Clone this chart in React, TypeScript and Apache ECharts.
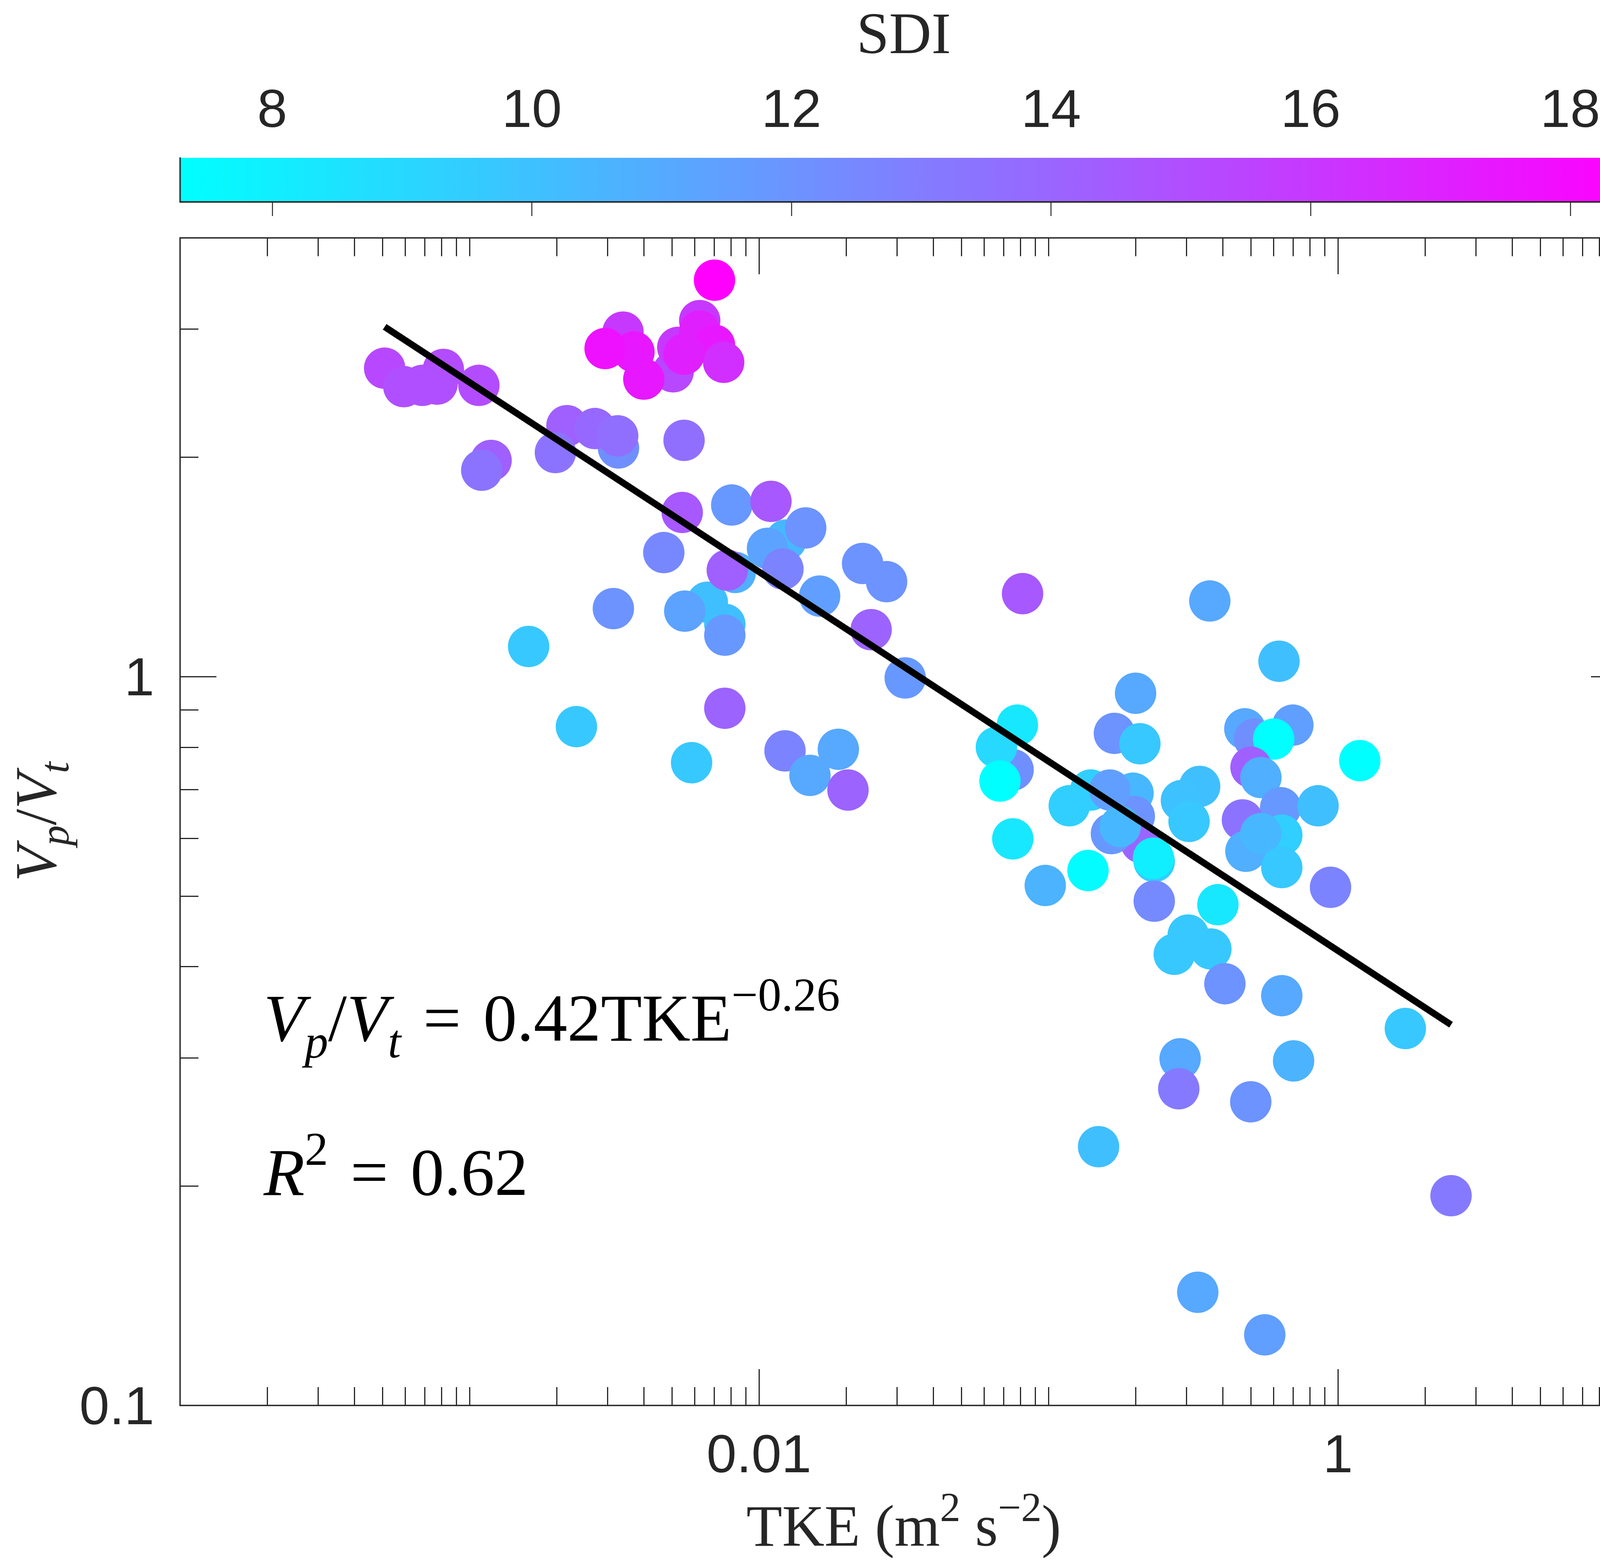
import React, { useEffect, useRef } from 'react';
import * as echarts from 'echarts';

// ---- data ----
const tke = [
  0.00505, 0.00524, 0.00624, 0.00339, 0.00624, 0.00702, 0.00755, 0.00551, 0.00702, 0.0037, 0.00294, 0.004,
  0.000687, 0.000509, 0.000812, 0.000772, 0.000593, 0.001077,
  0.001187, 0.001102, 0.00327, 0.00217, 0.00198, 0.00271, 0.00325, 0.00551,
  0.00543, 0.00805, 0.011, 0.0124, 0.00828, 0.00663, 0.00762, 0.00469, 0.0107, 0.00777, 0.0121, 0.0145,
  0.0228, 0.0276, 0.0162, 0.0244, 0.00314, 0.00554, 0.00762, 0.0016, 0.00762, 0.00234, 0.00585, 0.0123,
  0.0188, 0.015, 0.0203,
  0.0814, 0.361, 0.032, 0.626, 0.2, 0.0755, 0.0781, 0.0661, 0.068, 0.169, 0.207, 0.477, 0.699, 0.515,
  0.6, 0.501, 0.542, 0.14, 0.333, 0.196, 0.198, 0.209, 0.165, 0.232, 0.163, 0.118, 0.288, 0.306, 0.177,
  0.2305, 0.0753, 0.137, 0.0975, 0.232, 0.385, 0.364, 0.304, 0.272, 0.407, 0.64, 0.634, 0.468, 0.64,
  0.481, 0.854, 0.542, 0.64, 0.943,
  1.19, 1.71, 0.285, 0.703, 0.282, 0.5, 0.149, 2.46, 0.328, 0.559,
];
const ratio = [
  2.62, 2.83, 3.08, 2.97, 2.98, 2.85, 2.7, 2.77, 3.5, 2.79, 2.82, 2.56,
  2.51, 2.65, 2.64, 2.52, 2.5, 2.51,
  1.98, 1.92, 2.06, 2.21, 2.03, 2.19, 2.14, 2.11,
  1.68, 1.72, 1.74, 1.54, 1.39, 1.265, 1.18, 1.48, 1.5, 1.4, 1.405, 1.6,
  1.43, 1.35, 1.29, 1.16, 1.24, 1.23, 1.14, 1.1, 0.905, 0.854, 0.762, 0.791,
  0.795, 0.732, 0.699,
  1.3, 1.27, 0.996, 1.05, 0.949, 0.745, 0.858, 0.8, 0.719, 0.836, 0.809, 0.848, 0.858, 0.821,
  0.821, 0.751, 0.727, 0.699, 0.707, 0.692, 0.643, 0.592, 0.609, 0.5575, 0.699, 0.665, 0.676, 0.633, 0.623,
  0.5636, 0.599, 0.542, 0.517, 0.492, 0.4865, 0.423, 0.442, 0.416, 0.379, 0.365, 0.661, 0.636, 0.606,
  0.576, 0.665, 0.609, 0.547, 0.514,
  0.767, 0.329, 0.299, 0.297, 0.272, 0.261, 0.2265, 0.194, 0.143, 0.125,
];
const sdi = [
  15.3, 16.0, 16.0, 16.0, 17.1, 17.4, 16.4, 17.1, 18.44, 17.4, 17.7, 17.4,
  14.9, 15.3, 15.1, 15.0, 15.0, 15.1,
  14.3, 13.4, 12.2, 14.3, 13.4, 13.9, 13.6, 13.6,
  14.6, 11.8, 14.6, 10.4, 10.8, 10.1, 10.1, 12.5, 11.3, 14.3, 12.7, 12.0,
  12.0, 12.0, 11.5, 14.1, 12.0, 11.3, 11.8, 9.7, 14.1, 9.7, 9.7, 12.7,
  11.1, 11.1, 14.1,
  14.6, 11.1, 11.8, 10.1, 11.1, 12.2, 8.3, 9.0, 7.29, 12.0, 9.7, 11.1, 11.5, 12.2,
  7.29, 14.3, 10.8, 9.4, 10.1, 10.4, 12.0, 14.0, 11.8, 9.4, 11.5, 9.4, 10.0, 9.7, 10.4,
  8.0, 8.3, 7.4, 10.6, 12.4, 8.3, 9.7, 9.7, 9.7, 12.0, 11.1, 11.8, 13.4, 9.4,
  10.8, 10.1, 10.4, 9.7, 12.7,
  7.29, 9.7, 11.1, 10.6, 13.1, 12.0, 10.1, 13.1, 11.1, 11.5,
];
const fitTke = [0.000509, 2.46];
const fitRatio = [3.02, 0.333];

const xMajor = [0.01, 1];
const xMinor = [
  0.0002, 0.0003, 0.0004, 0.0005, 0.0006, 0.0007, 0.0008, 0.0009, 0.001,
  0.002, 0.003, 0.004, 0.005, 0.006, 0.007, 0.008, 0.009,
  0.02, 0.03, 0.04, 0.05, 0.06, 0.07, 0.08, 0.09, 0.1,
  0.2, 0.3, 0.4, 0.5, 0.6, 0.7, 0.8, 0.9,
  2, 3, 4, 5, 6, 7, 8, 9,
];
const yMajor = [1];
const yLabels = [0.1, 1];
const yMinor = [0.2, 0.3, 0.4, 0.5, 0.6, 0.7, 0.8, 0.9, 2, 3];
const sdiTicks = [8, 10, 12, 14, 16, 18];
const sdiMin = 7.29;
const sdiMax = 18.44;

const AX = '#262626';
const SANS = 'Liberation Sans';
const SERIF = 'Liberation Serif';
const LABEL_SIZE = 138;

const fmt = (v: number) => String(Number(Number(v).toPrecision(6)));
const lineS = { color: AX, width: 3.5 };
const tickS = { color: AX, width: 3 };

function frameAxis(extra: any) {
  return {
    splitLine: { show: false },
    minorTick: { show: false },
    minorSplitLine: { show: false },
    axisPointer: { show: false },
    ...extra,
  };
}

export default function App() {
  const ref = useRef<HTMLDivElement>(null);
  useEffect(() => {
    const chart = echarts.init(ref.current as HTMLDivElement, undefined, {
      renderer: 'svg',
      width: 4205,
      height: 4009,
    });

    const points = tke.map((x, i) => [x, ratio[i], sdi[i]]);
    const fitData = fitTke.map((x, i) => [x, fitRatio[i]]);

    const logX = (position: string, ticks: number[], len: number, line: boolean, extra: any = {}) =>
      frameAxis({
        type: 'log', logBase: 10, gridIndex: 0, min: 1e-4, max: 10, position,
        axisLine: { show: line, lineStyle: lineS },
        axisTick: { show: true, inside: true, length: len, customValues: ticks, lineStyle: tickS },
        axisLabel: { show: false },
        ...extra,
      });
    const logY = (position: string, ticks: number[], len: number, line: boolean, extra: any = {}) =>
      frameAxis({
        type: 'log', logBase: 10, gridIndex: 0, min: 0.1, max: 4, position,
        axisLine: { show: line, lineStyle: lineS },
        axisTick: { show: true, inside: true, length: len, customValues: ticks, lineStyle: tickS },
        axisLabel: { show: false },
        ...extra,
      });

    const mathRich = {
      i: { fill: '#000', fontFamily: SERIF, fontStyle: 'italic', fontSize: 172, lineHeight: 240 },
      n: { fill: '#000', fontFamily: SERIF, fontSize: 172, lineHeight: 240 },
      e: { fill: '#000', fontFamily: SERIF, fontSize: 172, lineHeight: 240, padding: [0, 14, 0, 14] },
      b: { fill: '#000', fontFamily: SERIF, fontStyle: 'italic', fontSize: 120, lineHeight: 165, verticalAlign: 'bottom' },
      s: { fill: '#000', fontFamily: SERIF, fontSize: 120, lineHeight: 137, verticalAlign: 'top' },
    };

    const option: any = {
      animation: false,
      backgroundColor: '#ffffff',
      grid: [
        { left: 461, top: 609, width: 3705, height: 2989, outerBoundsMode: 'none', containLabel: false },
        { left: 461, top: 404, width: 3705, height: 113, outerBoundsMode: 'none', containLabel: false },
      ],
      xAxis: [
        logX('bottom', xMajor, 93, true, {
          axisLabel: {
            show: true, customValues: xMajor, interval: 0, formatter: fmt,
            fontSize: LABEL_SIZE, fontFamily: SANS, color: AX, margin: 43, lineHeight: 160,
          },
          name: '{n|TKE (m}{s|2}{n| s}{s|\u22122}{n|)}',
          nameLocation: 'middle',
          nameGap: 161,
          nameTextStyle: {
            color: AX, fontFamily: SERIF, fontSize: 150,
            rich: {
              n: { color: AX, fontFamily: SERIF, fontSize: 150, lineHeight: 200 },
              s: { color: AX, fontFamily: SERIF, fontSize: 105, lineHeight: 120, verticalAlign: 'top' },
            },
          },
        }),
        logX('bottom', xMinor, 47, false),
        logX('top', xMajor, 93, true),
        logX('top', xMinor, 47, false),
        frameAxis({
          type: 'value', gridIndex: 1, min: sdiMin, max: sdiMax, position: 'top', z: 10,
          axisLine: { show: true, lineStyle: lineS },
          axisTick: { show: true, inside: true, length: 36, customValues: sdiTicks, lineStyle: { color: AX, width: 2.5 } },
          axisLabel: {
            show: true, customValues: sdiTicks, interval: 0, formatter: fmt,
            fontSize: LABEL_SIZE, fontFamily: SANS, color: AX, margin: 47, lineHeight: 160,
          },
          name: 'SDI',
          nameLocation: 'middle',
          nameGap: 219,
          nameTextStyle: { color: AX, fontFamily: SERIF, fontSize: 150, lineHeight: 200 },
        }),
        frameAxis({
          type: 'value', gridIndex: 1, min: sdiMin, max: sdiMax, position: 'bottom', z: 10,
          axisLine: { show: true, lineStyle: lineS },
          axisTick: { show: false },
          axisLabel: { show: false },
        }),
      ],
      yAxis: [
        logY('left', yMajor, 93, true, {
          axisLabel: {
            show: true, customValues: yLabels, interval: 0, formatter: fmt,
            fontSize: LABEL_SIZE, fontFamily: SANS, color: AX, margin: 66, lineHeight: 160,
          },
          name: '{i|V}{b|p}{n|/}{i|V}{b|t}',
          nameLocation: 'middle',
          nameRotate: 90,
          nameGap: 267,
          nameTextStyle: {
            color: AX, fontFamily: SERIF, fontSize: 150,
            rich: {
              i: { color: AX, fontFamily: SERIF, fontStyle: 'italic', fontSize: 150, lineHeight: 200 },
              n: { color: AX, fontFamily: SERIF, fontSize: 150, lineHeight: 200 },
              b: { color: AX, fontFamily: SERIF, fontStyle: 'italic', fontSize: 105, lineHeight: 134, verticalAlign: 'bottom' },
            },
          },
        }),
        logY('left', yMinor, 47, false),
        logY('right', yMajor, 93, true),
        logY('right', yMinor, 47, false),
        frameAxis({
          type: 'value', gridIndex: 1, min: 0, max: 1, position: 'left', z: 10,
          axisLine: { show: true, lineStyle: lineS }, axisTick: { show: false }, axisLabel: { show: false },
        }),
        frameAxis({
          type: 'value', gridIndex: 1, min: 0, max: 1, position: 'right', z: 10,
          axisLine: { show: true, lineStyle: lineS }, axisTick: { show: false }, axisLabel: { show: false },
        }),
      ],
      visualMap: [
        {
          type: 'continuous', show: false, seriesIndex: 0, dimension: 2,
          min: sdiMin, max: sdiMax,
          inRange: { color: ['#00FFFF', '#FF00FF'] },
        },
      ],
      series: [
        {
          type: 'scatter', xAxisIndex: 0, yAxisIndex: 0,
          data: points, symbol: 'circle', symbolSize: 106,
          itemStyle: { opacity: 1 },
          emphasis: { disabled: true },
          silent: true,
          z: 2,
        },
        {
          type: 'line', xAxisIndex: 0, yAxisIndex: 0,
          data: fitData, showSymbol: false, symbol: 'none',
          lineStyle: { color: '#000000', width: 17 },
          silent: true,
          z: 3,
        },
        {
          type: 'custom', xAxisIndex: 4, yAxisIndex: 4, silent: true, z: 1,
          data: [[sdiMin, sdiMax, 0.5]],
          encode: { x: [0, 1], y: 2 },
          renderItem: (params: any, api: any) => {
            const a = api.coord([api.value(0), 0]);
            const b = api.coord([api.value(1), 1]);
            return {
              type: 'rect',
              shape: { x: a[0], y: b[1], width: b[0] - a[0], height: a[1] - b[1] },
              style: {
                fill: new echarts.graphic.LinearGradient(0, 0, 1, 0, [
                  { offset: 0, color: '#00FFFF' },
                  { offset: 1, color: '#FF00FF' },
                ]),
              },
            };
          },
        },
      ],
      graphic: [
        {
          type: 'text', x: 675, y: 2486, z: 20,
          style: {
            text: '{i|V}{b|p}{n|/}{i|V}{b|t}{e| = }{n|0.42TKE}{s|\u22120.26}',
            verticalAlign: 'top', align: 'left', fill: '#000',
            rich: mathRich,
          },
        },
        {
          type: 'text', x: 675, y: 2881, z: 20,
          style: {
            text: '{i|R}{s|2}{e| = }{n|0.62}',
            verticalAlign: 'top', align: 'left', fill: '#000',
            rich: mathRich,
          },
        },
      ],
    };

    chart.setOption(option);
    return () => {
      chart.dispose();
    };
  }, []);

  return (
    <div
      ref={ref}
      style={{ position: 'fixed', left: 0, top: 0, width: 4205, height: 4009, background: '#ffffff' }}
    />
  );
}
